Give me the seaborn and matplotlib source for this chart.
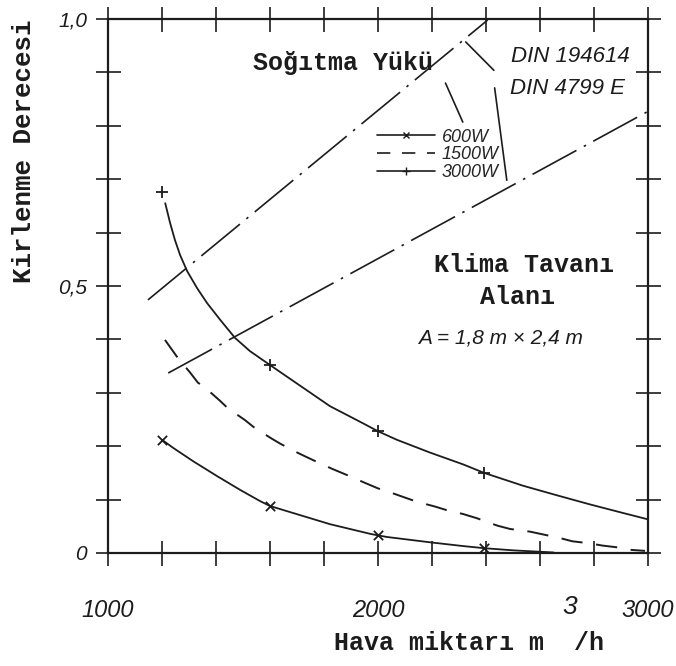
import numpy as np
import pandas as pd
import matplotlib
matplotlib.use("Agg")
import matplotlib.pyplot as plt
from matplotlib.lines import Line2D
import seaborn as sns

# curves (air flow m3/h -> degree of soiling)
x_600 = [1200, 1241, 1315, 1404, 1490, 1564, 1600, 1822, 1896, 1970, 2000, 2033,
         2193, 2315, 2393, 2500, 2650]
y_600 = [0.212, 0.197, 0.172, 0.144, 0.118, 0.097, 0.088, 0.054, 0.045, 0.036, 0.033, 0.030,
         0.020, 0.013, 0.009, 0.005, 0.001]
mx_600 = [1200, 1600, 2000, 2393]
my_600 = [0.212, 0.088, 0.033, 0.009]

x_1500 = [1211, 1259, 1304, 1333, 1359, 1415, 1444, 1507, 1544, 1607, 1637, 1693, 1730,
          1793, 1833, 1904, 1944, 2000, 2037, 2093, 2144, 2211, 2256, 2315, 2367, 2415,
          2444, 2489, 2563, 2600, 2674, 2719, 2785, 2830, 2896, 2933, 2989]
y_1500 = [0.399, 0.365, 0.338, 0.319, 0.310, 0.285, 0.271, 0.249, 0.234, 0.214, 0.205, 0.190,
          0.181, 0.166, 0.157, 0.142, 0.133, 0.121, 0.115, 0.105, 0.096, 0.087, 0.080, 0.073,
          0.065, 0.056, 0.051, 0.045, 0.040, 0.036, 0.028, 0.022, 0.018, 0.014, 0.010,
          0.006, 0.004]

x_3000 = [1212, 1230, 1248, 1267, 1293, 1330, 1367, 1415, 1470, 1526, 1600, 1822, 1944,
          2000, 2070, 2193, 2315, 2393, 2537, 2663, 2785, 2907, 3000]
y_3000 = [0.655, 0.618, 0.586, 0.558, 0.528, 0.496, 0.468, 0.437, 0.403, 0.378, 0.352, 0.275,
          0.243, 0.228, 0.212, 0.188, 0.166, 0.150, 0.126, 0.108, 0.091, 0.075, 0.063]
mx_3000 = [1200, 1600, 2000, 2393]
my_3000 = [0.676, 0.352, 0.228, 0.150]

# DIN limit lines (dash-dot)
x_din1946 = [1148, 2406]
y_din1946 = [0.474, 0.998]
x_din4799 = [1223, 3000]
y_din4799 = [0.337, 0.827]

# leader lines from the labels
lead_din1946_x = [2325, 2429]
lead_din1946_y = [0.957, 0.904]
lead_din4799_x = [2432, 2477]
lead_din4799_y = [0.871, 0.698]
lead_sog_x = [2250, 2314]
lead_sog_y = [0.880, 0.807]

x_ticks = [1000, 2000, 3000]
x_tick_labels = ["1000", "2000", "3000"]
y_ticks = [0, 0.5, 1.0]
y_tick_labels = ["0", "0,5", "1,0"]
legend_labels = ["600W", "1500W", "3000W"]

sns.set_style("white")
plt.rcParams['font.family'] = ['DejaVu Sans']

W, H = 676, 666
fig = plt.figure(figsize=(W / 100, H / 100), dpi=100)
ax = fig.add_axes([108 / W, 1 - 553 / H, 540 / W, 534 / H])

ink = "#1c1c1c"
typew = dict(family=["Liberation Mono", "DejaVu Sans Mono"], weight="bold", color=ink)
ital = dict(family=["Liberation Sans Narrow", "Liberation Sans"], style="italic", color=ink)

# curves
sns.lineplot(x=x_600, y=y_600, ax=ax, color=ink, lw=1.3, sort=False, estimator=None)
sns.scatterplot(x=mx_600, y=my_600, ax=ax, marker="x", color=ink, s=45, linewidth=1.3,
                clip_on=False)
sns.lineplot(x=x_1500, y=y_1500, ax=ax, color=ink, lw=1.4, sort=False, estimator=None,
             linestyle=(0, (11, 7)))
sns.lineplot(x=x_3000, y=y_3000, ax=ax, color=ink, lw=1.3, sort=False, estimator=None)
sns.scatterplot(x=mx_3000, y=my_3000, ax=ax, marker="+", color=ink, s=70, linewidth=1.3)

dashdot = (0, (30, 5, 1.5, 5))
sns.lineplot(x=x_din1946, y=y_din1946, ax=ax, color=ink, lw=1.2, linestyle=dashdot)
sns.lineplot(x=x_din4799, y=y_din4799, ax=ax, color=ink, lw=1.2, linestyle=dashdot)

for lx, ly in [(lead_din1946_x, lead_din1946_y), (lead_din4799_x, lead_din4799_y),
               (lead_sog_x, lead_sog_y)]:
    ax.plot(lx, ly, color=ink, lw=1.2)

# axes, ticks on all four sides
ax.set_xlim(1000, 3000)
ax.set_ylim(0, 1.0)
ax.set_xticks(x_ticks)
ax.set_xticklabels(x_tick_labels, fontsize=17, **ital)
ax.set_yticks(y_ticks)
ax.set_yticklabels(y_tick_labels, fontsize=15, **ital)
ax.set_xticks(np.arange(1000, 3001, 200), minor=True)
ax.set_yticks(np.arange(0, 1.01, 0.1), minor=True)
for which in ["major", "minor"]:
    ax.tick_params(which=which, direction="inout", length=18, width=1.2, color=ink,
                   top=True, right=True, bottom=True, left=True,
                   labeltop=False, labelright=False)
ax.tick_params(axis="x", which="major", pad=24)
ax.tick_params(axis="y", which="major", pad=6)
for s in ax.spines.values():
    s.set_visible(True)
    s.set_color(ink)
    s.set_linewidth(1.6)

# legend
handles = [
    Line2D([], [], color=ink, lw=1.2, marker="x", markersize=5),
    Line2D([], [], color=ink, lw=1.2, linestyle=(0, (8, 7))),
    Line2D([], [], color=ink, lw=1.2, marker="+", markersize=6),
]
leg = ax.legend(handles, legend_labels, loc="center", frameon=False,
                bbox_to_anchor=(438 / W, 1 - 155 / H), bbox_transform=fig.transFigure,
                handlelength=3.2, handletextpad=0.4, labelspacing=0.05, borderpad=0,
                prop=dict(family="Liberation Sans", style="italic", size=13))


def ftxt(px, py, s, **kw):
    fig.text(px / W, 1 - py / H, s, ha="center", va="center", **kw)


ftxt(343, 63, "Soğıtma Yükü", fontsize=18, **typew)
ftxt(524, 265, "Klima Tavanı", fontsize=18, **typew)
ftxt(517, 297, "Alanı", fontsize=18, **typew)
ftxt(500, 338, "A = 1,8 m × 2,4 m", fontsize=15, **ital)
ftxt(570, 56, "DIN 194614", fontsize=16, **ital)
ftxt(567, 89, "DIN 4799 E", fontsize=16, **ital)
ftxt(469, 643, "Hava miktarı m  /h", fontsize=18, **typew)
ftxt(570, 607, "3", fontsize=19, family="Liberation Sans", style="italic", color=ink)
fig.text(24 / W, 1 - 151 / H, "Kirlenme Derecesi", rotation=90, ha="center", va="center",
         fontsize=18.5, **typew)

fig.savefig("out.png", dpi=100, facecolor="white")
